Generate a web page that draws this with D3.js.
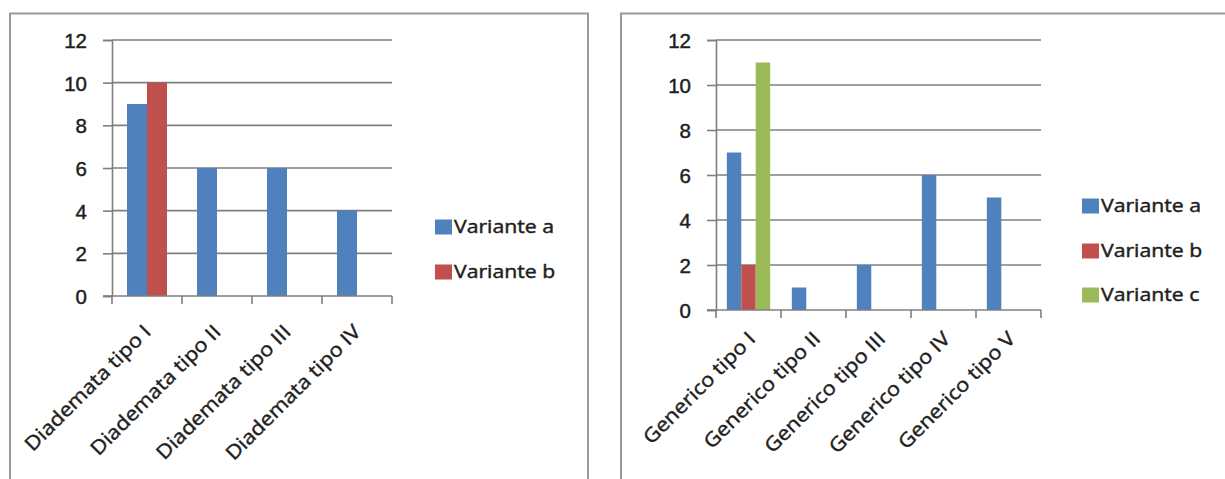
<!DOCTYPE html>
<html>
<head>
<meta charset="utf-8">
<script src="https://cdn.jsdelivr.net/npm/d3@7"></script>
<style>
  body { margin: 0; background: #ffffff; }
  svg { display: block; font-family: "Open Sans", "Noto Sans", sans-serif; }
  svg text { stroke: #1e1e1e; stroke-width: 0.45px; paint-order: stroke; }
</style>
</head>
<body>
<svg id="chart" width="1225" height="479"></svg>
<script>
// Counts per type, split by variant
const diademataCategories = ["Diademata tipo I", "Diademata tipo II", "Diademata tipo III", "Diademata tipo IV"];
const diademataVarianteA = [9, 6, 6, 4];
const diademataVarianteB = [10, null, null, null];

const genericoCategories = ["Generico tipo I", "Generico tipo II", "Generico tipo III", "Generico tipo IV", "Generico tipo V"];
const genericoVarianteA = [7, 1, 2, 6, 5];
const genericoVarianteB = [2, null, null, null, null];
const genericoVarianteC = [11, null, null, null, null];

const yTickValues = [0, 2, 4, 6, 8, 10, 12];
const seriesNames = ["Variante a", "Variante b", "Variante c"];
const seriesColors = ["#4f81bd", "#c0504d", "#9bbb59"];

const svg = d3.select("#chart");
const TEXT = "#1e1e1e";
const GRID = "#7f7f7f";

function drawChart(cfg) {
  const g = svg.append("g");

  // outer frame
  g.append("rect")
    .attr("x", cfg.frame[0]).attr("y", cfg.frame[1])
    .attr("width", cfg.frame[2]).attr("height", cfg.frame[3])
    .attr("fill", "#ffffff").attr("stroke", "#9a9a9a").attr("stroke-width", 2);

  const n = cfg.series.length;
  const gap = 1.5 / (n + 1.5);
  const x = d3.scaleBand().domain(cfg.categories)
    .range([cfg.left, cfg.right]).paddingInner(gap).paddingOuter(gap / 2);
  const xs = d3.scaleBand().domain(d3.range(n)).range([0, x.bandwidth()]);
  const y = d3.scaleLinear().domain([0, 12]).range([cfg.bottom, cfg.top]);

  // horizontal gridlines
  g.append("g").selectAll("line").data(yTickValues.filter(v => v > 0)).join("line")
    .attr("x1", cfg.left).attr("x2", cfg.right)
    .attr("y1", d => y(d)).attr("y2", d => y(d))
    .attr("stroke", GRID).attr("stroke-width", 1.6);

  // bars
  cfg.series.forEach((vals, si) => {
    g.append("g").selectAll("rect")
      .data(cfg.categories.map((c, i) => ({ c, v: vals[i] })).filter(d => d.v != null))
      .join("rect")
      .attr("x", d => x(d.c) + xs(si))
      .attr("width", xs.bandwidth())
      .attr("y", d => y(d.v))
      .attr("height", d => y(0) - y(d.v))
      .attr("fill", seriesColors[si]);
  });

  // y axis
  const yAxis = d3.axisLeft(y).tickValues(yTickValues).tickSize(9).tickPadding(16);
  const ya = g.append("g").attr("transform", `translate(${cfg.left},0)`).call(yAxis);
  ya.select(".domain").attr("stroke", GRID).attr("stroke-width", 1.6);
  ya.selectAll(".tick line").attr("stroke", GRID).attr("stroke-width", 1.6);
  ya.selectAll(".tick text")
    .attr("fill", TEXT).attr("font-size", 20.5).attr("dy", "0.36em");

  // x axis: line with ticks on category boundaries
  const step = x.step();
  const bounds = d3.range(cfg.categories.length + 1).map(i => cfg.left + i * step);
  g.append("line")
    .attr("x1", cfg.left - 9).attr("x2", cfg.right)
    .attr("y1", y(0)).attr("y2", y(0))
    .attr("stroke", GRID).attr("stroke-width", 1.6);
  g.append("g").selectAll("line").data(bounds).join("line")
    .attr("x1", d => d).attr("x2", d => d)
    .attr("y1", y(0)).attr("y2", y(0) + 8)
    .attr("stroke", GRID).attr("stroke-width", 1.6);

  // rotated category labels
  g.append("g").selectAll("text").data(cfg.categories).join("text")
    .attr("transform", d => `translate(${x(d) + x.bandwidth() / 2 + cfg.labelDx},${y(0) + cfg.labelDy}) rotate(-45) scale(1.12,1)`)
    .attr("text-anchor", "end")
    .attr("font-size", 19.5)
    .attr("fill", TEXT)
    .text(d => d);

  // legend
  const lg = g.append("g");
  cfg.series.forEach((vals, si) => {
    const cy = cfg.legendY[si];
    lg.append("rect")
      .attr("x", cfg.legendX).attr("y", cy - 7.5)
      .attr("width", 17).attr("height", 15)
      .attr("fill", seriesColors[si]);
    lg.append("text")
      .attr("transform", `translate(${cfg.legendX + 19},${cy}) scale(1.18,1)`)
      .attr("dy", "0.36em")
      .attr("font-size", 18)
      .attr("fill", TEXT)
      .text(seriesNames[si]);
  });
}

drawChart({
  frame: [10, 13.5, 578, 480],
  left: 112, right: 392, top: 40, bottom: 296,
  categories: diademataCategories,
  series: [diademataVarianteA, diademataVarianteB],
  labelDx: 5, labelDy: 37,
  legendX: 435, legendY: [227, 272]
});

drawChart({
  frame: [621, 13.5, 620, 480],
  left: 716, right: 1041, top: 40, bottom: 310,
  categories: genericoCategories,
  series: [genericoVarianteA, genericoVarianteB, genericoVarianteC],
  labelDx: 8, labelDy: 30,
  legendX: 1082, legendY: [206, 251, 295]
});
</script>
</body>
</html>
